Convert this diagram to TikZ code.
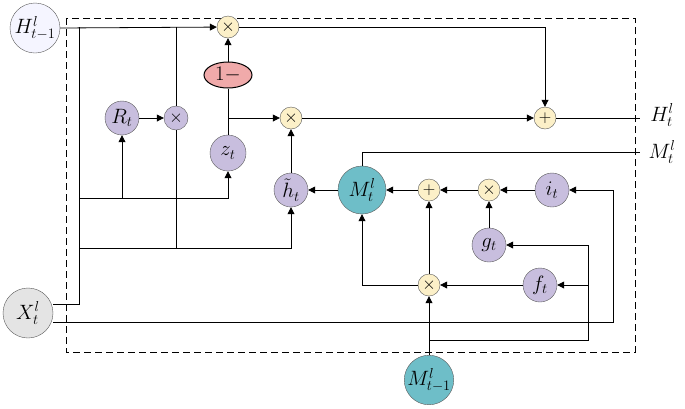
\documentclass[tikz,border=0pt]{standalone}
\usepackage{amsmath}
\usepackage{amssymb}
\usepackage{tikz}
\usetikzlibrary{shapes.geometric,arrows.meta}
\definecolor{gatec}{RGB}{200,190,222}
\definecolor{cellc}{RGB}{110,190,200}
\definecolor{opc}{RGB}{252,240,200}
\definecolor{onec}{RGB}{240,170,170}
\definecolor{inc}{RGB}{228,228,228}
\tikzset{
  gate/.style={circle,draw=gray!70!black,fill=gatec,minimum size=34pt,inner sep=0pt},
  cell/.style={circle,draw=gray!70!black,fill=cellc,minimum size=48pt,inner sep=0pt},
  op/.style={circle,draw=gray!70!black,fill=opc,minimum size=22pt,inner sep=0pt,font=\fontsize{17}{18}\selectfont},
  inp/.style={circle,draw=gray!70!black,minimum size=50pt,inner sep=0pt},
  arr/.style={-{Triangle[length=7pt,width=7pt]},line width=0.8pt},
  ln/.style={line width=0.8pt}
}
\begin{document}
\begin{tikzpicture}[x=1pt,y=-1pt,font=\fontsize{22}{24}\selectfont]
\useasboundingbox (0,0) rectangle (685,408);
\draw[dashed,line width=0.9pt,dash pattern=on 7pt off 4pt] (66,18) rectangle (635,352);
% inputs
\node[inp,fill=blue!4] (hprev) at (35,28) {$H^l_{t-1}$};
\node[inp,fill=inc] (x) at (28,313) {$X^l_t$};
\node[cell] (mprev) at (429,380) {$M^l_{t-1}$};
% gates
\node[gate] (r) at (122,118) {$R_t$};
\node[circle,draw=gray!70!black,fill=gatec,minimum size=24pt,inner sep=0pt,font=\fontsize{17}{18}\selectfont] (rm) at (176,118) {$\times$};
\node[gate,minimum size=36pt] (z) at (228,153) {$z_t$};
\node[ellipse,draw,line width=1pt,fill=onec,minimum width=48pt,minimum height=26pt,inner sep=0pt] (one) at (228,75) {$1-$};
\node[op] (mtop) at (228,27) {$\times$};
\node[op] (mmid) at (291,118) {$\times$};
\node[gate] (h) at (291,190) {$\tilde{h}_t$};
\node[op] (ptop) at (545,118) {$+$};
\node (hout) at (662,115) {$H^l_t$};
\node (mout) at (662,152) {$M^l_t$};
\node[cell] (m) at (362,190) {$M^l_t$};
\node[op] (pm) at (429,190) {$+$};
\node[op] (mi) at (489,190) {$\times$};
\node[gate] (i) at (552,190) {$i_t$};
\node[gate] (g) at (489,245) {$g_t$};
\node[gate] (f) at (540,285) {$f_t$};
\node[op] (mf) at (429,285) {$\times$};
% hidden path
\draw[arr] (hprev.east) -- (mtop);
\draw[arr] (mtop.east) -| (ptop.north);
\draw[ln] (79,27) -- (79,304) -- (x.east |- 0,304);
\draw[ln] (176,27) -- (rm.north);
\draw[ln] (rm.south) -- (176,248);
\draw[ln] (79,198) -| (228,180);
\draw[arr] (228,190) -- (z.south);
\draw[arr] (122,198) -- (r.south);
\draw[arr] (r) -- (rm);
\draw[ln] (79,248) -| (291,230);
\draw[arr] (291,230) -- (h.south);
\draw[ln] (z.north) -- (one.south);
\draw[arr] (one.north) -- (mtop.south);
\draw[arr] (228,118) -- (mmid.west);
\draw[arr] (h.north) -- (mmid.south);
\draw[arr] (mmid) -- (ptop);
\draw[ln] (ptop) -- (640,118);
% memory path
\draw[arr] (m) -- (h);
\draw[arr] (pm) -- (m);
\draw[arr] (mi) -- (pm);
\draw[arr] (i) -- (mi);
\draw[arr] (g) -- (mi);
\draw[arr] (mf) -- (pm);
\draw[arr] (f) -- (mf);
\draw[ln] (mf.west) -| (362,230);
\draw[arr] (362,230) -- (m.south);
\draw[ln] (m.north) |- (640,152);
\draw[arr] (mprev.north) -- (mf.south);
\draw[ln] (x.east |- 0,322) -| (613,190);
\draw[arr] (613,190) -- (i.east);
\draw[ln] (429,340) -| (588,245);
\draw[arr] (588,245) -- (g.east);
\draw[arr] (588,285) -- (f.east);
\end{tikzpicture}
\end{document}
